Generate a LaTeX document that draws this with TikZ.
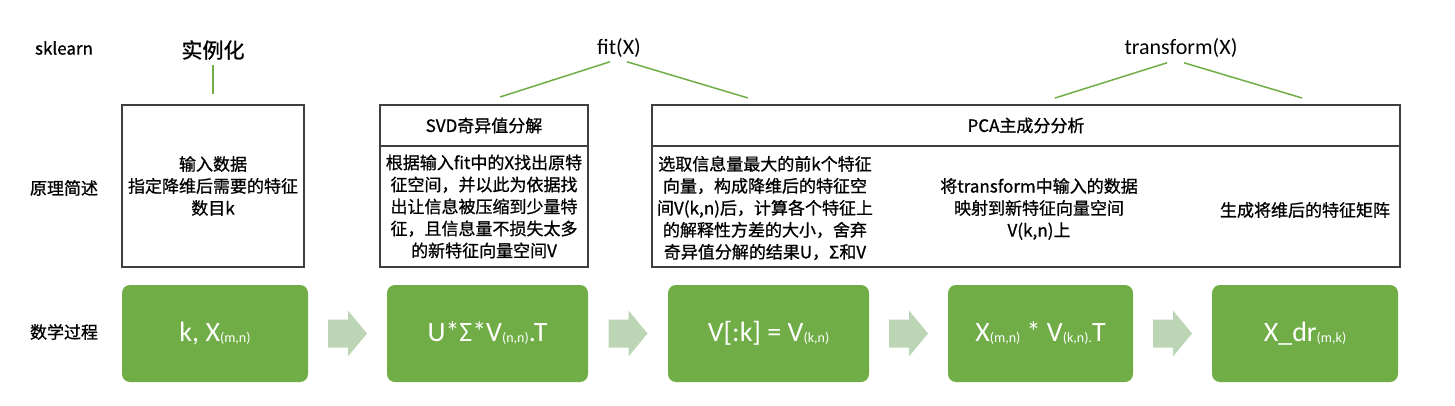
\documentclass[tikz,border=0pt]{standalone}
\usepackage{fontspec}
\setmainfont{Noto Sans CJK SC}[FakeBold=0.9]
\newfontfamily\latinfont{Carlito}
\usetikzlibrary{calc, positioning}
\definecolor{cgreen}{HTML}{70AD47}
\definecolor{cpale}{HTML}{BCD5B4}
\definecolor{cline}{HTML}{3F3F3F}
\newcommand{\dnsub}[1]{\raisebox{-1pt}{\fontsize{14}{14}\selectfont #1}}
\tikzset{
  every picture/.style={x=1pt, y=-1pt},
  frame/.style={draw=cline, line width=1.2pt, inner sep=0pt, align=center, font=\fontsize{17}{22}\selectfont},
  body/.style={font=\fontsize{17}{22}\selectfont, align=center, inner sep=0pt},
  title/.style={font=\latinfont\fontsize{22}{24}\selectfont, inner sep=0pt},
  mathbox/.style={fill=cgreen, rounded corners=8pt, minimum width=#1, minimum height=97pt, inner sep=0pt, text=white, font=\latinfont\fontsize{28}{30}\selectfont},
  tie/.style={draw=cgreen, line width=1.5pt},
  flow/.style={fill=cpale},
}

\begin{document}
\begin{tikzpicture}
  \useasboundingbox (0,0) rectangle (1455,405);
  % row labels
  \node[body] (lsk) at (64,48) {sklearn};
  \node[body] (lyl) at (64,188) {原理简述};
  \node[body] (lsx) at (64,332) {数学过程};
  % sklearn steps
  \node[body, font=\fontsize{21}{24}\selectfont] (inst) at (213,50) {实例化};
  \node[title] (fitx) at (619,48) {fit(X)};
  \node[title] (tfx) at (1181,48) {transform(X)};
  % principle boxes
  \node[frame, minimum width=182pt, minimum height=162pt] (inbox) at (213,186) {输入数据\\指定降维后需要的特征\\数目k};
  \node[frame, minimum width=208pt, minimum height=41pt] (svdhd) at (484,125.5) {SVD奇异值分解};
  \node[frame, minimum width=208pt, minimum height=121pt] (svdbd) at (484,206.5) {根据输入fit中的X找出原特\\征空间，并以此为依据找\\出让信息被压缩到少量特\\征，且信息量不损失太多\\的新特征向量空间V};
  \node[frame, minimum width=748pt, minimum height=41pt] (pcahd) at (1026,125.5) {PCA主成分分析};
  \node[frame, minimum width=748pt, minimum height=121pt] (pcabd) at (1026,206.5) {};
  \node[body] (pca1) at (765,208) {选取信息量最大的前k个特征\\向量，构成降维后的特征空\\间V(k,n)后，计算各个特征上\\的解释性方差的大小，舍弃\\奇异值分解的结果U，Σ和V};
  \node[body] (pca2) at (1039,209) {将transform中输入的数据\\映射到新特征向量空间\\V(k,n)上};
  \node[body] (pca3) at (1305,210) {生成将维后的特征矩阵};
  % ties from the calls to the boxes
  \coordinate (fitl) at (500,97);
  \coordinate (fitr) at (748,98);
  \coordinate (tfl) at (1055,98);
  \coordinate (tfr) at (1302,98);
  \draw[tie, shorten <=5pt, shorten >=10pt] (inst.south) -- (inbox.north);
  \draw[tie] ($(fitx.south)+(-9,4)$) -- (fitl);
  \draw[tie] ($(fitx.south)+(8,4)$) -- (fitr);
  \draw[tie] ($(tfx.south)+(-14,5)$) -- (tfl);
  \draw[tie] ($(tfx.south)+(3,5)$) -- (tfr);
  % math steps
  \node[mathbox=186pt] (m1) at (215,333.5) {k, X\dnsub{(m,n)}};
  \node[mathbox=201pt] (m2) at (487.5,333.5) {U*Σ*V\dnsub{(n,n)}.T};
  \node[mathbox=201pt] (m3) at (768.5,333.5) {V[:k] = V\dnsub{(k,n)}};
  \node[mathbox=185pt] (m4) at (1040.5,333.5) {X\dnsub{(m,n)} * V\dnsub{(k,n).}T};
  \node[mathbox=186pt] (m5) at (1305,333.5) {X\_dr\dnsub{(m,k)}};
  \foreach \a/\b in {m1/m2, m2/m3, m3/m4, m4/m5}
    \fill[flow] ($(\a.east)!0.5!(\b.west)$) ++(-19.5,-14) -- ++(20,0) -- ++(0,-9)
      -- ++(19,23) -- ++(-19,23) -- ++(0,-9) -- ++(-20,0) -- cycle;
\end{tikzpicture}
\end{document}
